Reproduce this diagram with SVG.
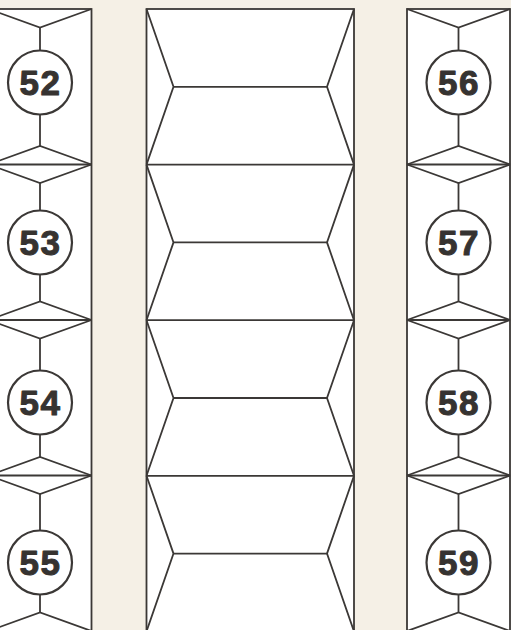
<svg xmlns="http://www.w3.org/2000/svg" width="511" height="630" viewBox="0 0 511 630">
  <style>
    .strip { fill: #ffffff; stroke: #3b3836; stroke-width: 1.8; }
    .ln { fill: none; stroke: #3b3836; stroke-width: 1.8; stroke-linejoin: miter; }
    .badge { fill: #ffffff; stroke: #3b3836; stroke-width: 2.2; }
    .num { font-family: "Liberation Sans", Arial, sans-serif; font-weight: bold; font-size: 35px; fill: #363331; stroke: #363331; stroke-width: 1; stroke-linejoin: round; text-anchor: middle; letter-spacing: 1.5px; }
  </style>
  <rect x="0" y="0" width="511" height="630" fill="#f5f0e6"/>

  <!-- strips -->
  <g id="strips">
    <rect class="strip" x="-11.5" y="9" width="103" height="640"/>
    <rect class="strip" x="146.5" y="9" width="207.5" height="640"/>
    <rect class="strip" x="407" y="9" width="103" height="640"/>
  </g>

  <!-- left column nodes -->
  <g id="node-52">
    <polyline class="ln" points="-11.5,9 40,27.5 91.5,9"/>
    <line class="ln" x1="-11.5" y1="164.5" x2="91.5" y2="164.5"/>
    <polyline class="ln" points="-11.5,164.5 40,146 91.5,164.5"/>
    <circle class="badge" cx="40" cy="82.5" r="32"/>
    <text class="num" x="40.5" y="95">52</text>
  </g>
  <g id="node-53">
    <polyline class="ln" points="-11.5,164.5 40,183 91.5,164.5"/>
    <line class="ln" x1="-11.5" y1="320" x2="91.5" y2="320"/>
    <polyline class="ln" points="-11.5,320 40,301.5 91.5,320"/>
    <circle class="badge" cx="40" cy="242.5" r="32"/>
    <text class="num" x="40.5" y="255">53</text>
  </g>
  <g id="node-54">
    <polyline class="ln" points="-11.5,320 40,338.5 91.5,320"/>
    <line class="ln" x1="-11.5" y1="475.5" x2="91.5" y2="475.5"/>
    <polyline class="ln" points="-11.5,475.5 40,457 91.5,475.5"/>
    <circle class="badge" cx="40" cy="402.5" r="32"/>
    <text class="num" x="40.5" y="415">54</text>
  </g>
  <g id="node-55">
    <polyline class="ln" points="-11.5,475.5 40,494 91.5,475.5"/>
    <polyline class="ln" points="-11.5,631 40,612.5 91.5,631"/>
    <circle class="badge" cx="40" cy="562.5" r="32"/>
    <text class="num" x="40.5" y="575">55</text>
  </g>

  <!-- middle column panels -->
  <g id="panel-1">
    <polyline class="ln" points="146.5,9 173.5,86.8 146.5,164.6"/>
    <polyline class="ln" points="354,9 327,86.8 354,164.6"/>
    <line class="ln" x1="173.5" y1="86.8" x2="327" y2="86.8"/>
    <line class="ln" x1="146.5" y1="164.6" x2="354" y2="164.6"/>
  </g>
  <g id="panel-2">
    <polyline class="ln" points="146.5,164.6 173.5,242.4 146.5,320.2"/>
    <polyline class="ln" points="354,164.6 327,242.4 354,320.2"/>
    <line class="ln" x1="173.5" y1="242.4" x2="327" y2="242.4"/>
    <line class="ln" x1="146.5" y1="320.2" x2="354" y2="320.2"/>
  </g>
  <g id="panel-3">
    <polyline class="ln" points="146.5,320.2 173.5,398 146.5,475.8"/>
    <polyline class="ln" points="354,320.2 327,398 354,475.8"/>
    <line class="ln" x1="173.5" y1="398" x2="327" y2="398"/>
    <line class="ln" x1="146.5" y1="475.8" x2="354" y2="475.8"/>
  </g>
  <g id="panel-4">
    <polyline class="ln" points="146.5,475.8 173.5,553.6 146.5,631.4"/>
    <polyline class="ln" points="354,475.8 327,553.6 354,631.4"/>
    <line class="ln" x1="173.5" y1="553.6" x2="327" y2="553.6"/>
  </g>

  <!-- right column nodes -->
  <g id="node-56">
    <polyline class="ln" points="407,9 458.5,27.5 510,9"/>
    <line class="ln" x1="407" y1="164.5" x2="510" y2="164.5"/>
    <polyline class="ln" points="407,164.5 458.5,146 510,164.5"/>
    <circle class="badge" cx="458.5" cy="82.5" r="32"/>
    <text class="num" x="459" y="95">56</text>
  </g>
  <g id="node-57">
    <polyline class="ln" points="407,164.5 458.5,183 510,164.5"/>
    <line class="ln" x1="407" y1="320" x2="510" y2="320"/>
    <polyline class="ln" points="407,320 458.5,301.5 510,320"/>
    <circle class="badge" cx="458.5" cy="242.5" r="32"/>
    <text class="num" x="459" y="255">57</text>
  </g>
  <g id="node-58">
    <polyline class="ln" points="407,320 458.5,338.5 510,320"/>
    <line class="ln" x1="407" y1="475.5" x2="510" y2="475.5"/>
    <polyline class="ln" points="407,475.5 458.5,457 510,475.5"/>
    <circle class="badge" cx="458.5" cy="402.5" r="32"/>
    <text class="num" x="459" y="415">58</text>
  </g>
  <g id="node-59">
    <polyline class="ln" points="407,475.5 458.5,494 510,475.5"/>
    <polyline class="ln" points="407,631 458.5,612.5 510,631"/>
    <circle class="badge" cx="458.5" cy="562.5" r="32"/>
    <text class="num" x="459" y="575">59</text>
  </g>

  <!-- connectors: apex to badge -->
  <g id="connectors" class="ln">
    <line x1="40" y1="27.5" x2="40" y2="50.5"/>
    <line x1="40" y1="114.5" x2="40" y2="146"/>
    <line x1="40" y1="183" x2="40" y2="210.5"/>
    <line x1="40" y1="274.5" x2="40" y2="301.5"/>
    <line x1="40" y1="338.5" x2="40" y2="370.5"/>
    <line x1="40" y1="434.5" x2="40" y2="457"/>
    <line x1="40" y1="494" x2="40" y2="530.5"/>
    <line x1="40" y1="594.5" x2="40" y2="612.5"/>
    <line x1="458.5" y1="27.5" x2="458.5" y2="50.5"/>
    <line x1="458.5" y1="114.5" x2="458.5" y2="146"/>
    <line x1="458.5" y1="183" x2="458.5" y2="210.5"/>
    <line x1="458.5" y1="274.5" x2="458.5" y2="301.5"/>
    <line x1="458.5" y1="338.5" x2="458.5" y2="370.5"/>
    <line x1="458.5" y1="434.5" x2="458.5" y2="457"/>
    <line x1="458.5" y1="494" x2="458.5" y2="530.5"/>
    <line x1="458.5" y1="594.5" x2="458.5" y2="612.5"/>
  </g>
</svg>
